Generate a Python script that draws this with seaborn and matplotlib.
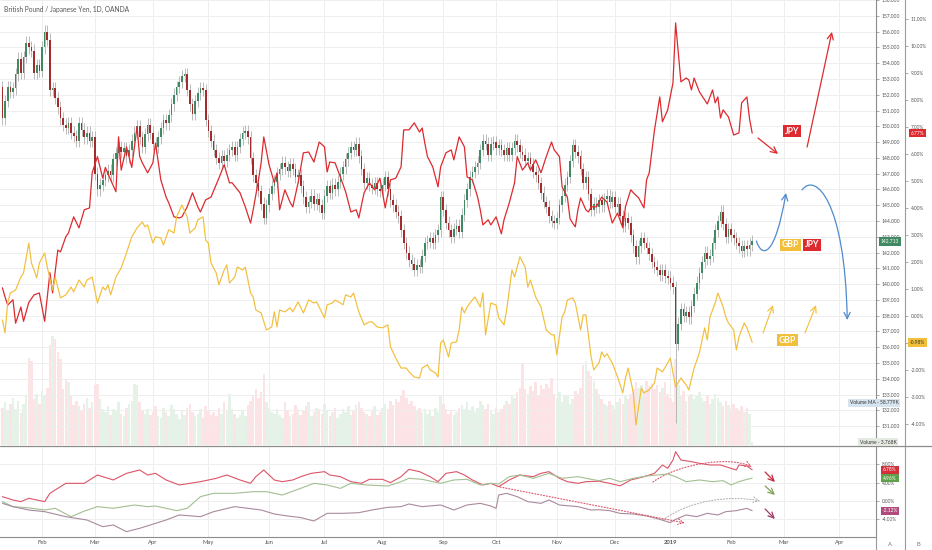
import matplotlib
matplotlib.use('Agg')
import matplotlib.pyplot as plt
from matplotlib.lines import Line2D
from matplotlib.patches import FancyArrowPatch
from matplotlib.path import Path
import numpy as np
import pandas as pd
import seaborn as sns

sns.set_theme(style='white')
plt.rcParams['font.family'] = ['Lato', 'DejaVu Sans']

# --- data --------------------------------------------------------------
start_date = '2018-01-11'
month_labels = ['Feb', 'Mar', 'Apr', 'May', 'Jun', 'Jul', 'Aug', 'Sep',
                'Oct', 'Nov', 'Dec', '2019', 'Feb', 'Mar', 'Apr']

first_open = 152.5
closes = [
    150.5, 151.6, 152.5, 152.2, 152.4, 153.3, 154.3, 153.4, 154.4, 155.3,
    155.0, 154.8, 153.4, 153.9, 153.5, 155.0, 156.0, 155.5, 152.3, 152.4,
    151.8, 151.2, 150.5, 150.1, 149.9, 150.2, 149.6, 149.4, 149.1, 150.2,
    149.8, 149.3, 149.6, 149.1, 149.3, 147.0, 146.0, 146.3, 146.6, 146.9,
    147.2, 146.9, 147.9, 148.3, 148.7, 148.4, 148.6, 148.1, 148.5, 149.1,
    149.6, 150.0, 149.3, 148.7, 149.5, 150.1, 149.6, 148.9, 148.7, 149.3,
    149.9, 150.4, 150.2, 150.7, 151.4, 152.0, 152.5, 152.8, 153.2, 153.3,
    152.3, 151.4, 150.8, 151.6, 152.1, 152.4, 152.3, 150.4, 149.7, 149.1,
    148.5, 148.0, 147.7, 148.1, 147.8, 148.2, 148.5, 148.7, 148.2, 148.7,
    149.2, 149.6, 149.7, 149.3, 148.0, 146.9, 146.4, 145.9, 145.1, 144.2,
    145.0, 145.7, 146.2, 146.5, 147.0, 147.3, 147.7, 147.4, 147.2, 147.6,
    147.3, 146.8, 146.9, 146.2, 145.5, 144.9, 145.2, 145.6, 145.1, 145.4,
    145.0, 144.5, 145.6, 146.2, 145.8, 146.3, 146.0, 146.5, 147.0, 147.4,
    147.9, 148.3, 148.7, 148.5, 148.9, 148.1, 147.3, 146.4, 146.7, 146.3,
    146.1, 146.4, 146.0, 145.9, 146.3, 146.8, 146.0, 145.3, 145.0, 144.6,
    144.3, 143.4, 142.6, 142.0, 141.5, 141.3, 140.9, 141.2, 141.1, 141.8,
    142.6, 142.7, 142.9, 142.6, 143.1, 143.4, 145.5, 144.7, 143.9, 143.4,
    143.0, 143.5, 143.7, 143.3, 144.4, 145.3, 146.0, 146.8, 147.1, 147.4,
    147.7, 148.5, 149.1, 148.9, 148.2, 148.9, 149.0, 148.6, 148.8, 148.5,
    148.2, 148.6, 148.2, 148.6, 149.1, 148.8, 148.4, 148.2, 147.8, 148.0,
    147.6, 147.1, 146.9, 146.4, 145.8, 145.2, 144.9, 144.3, 144.0, 143.9,
    144.2, 145.0, 145.6, 146.3, 146.8, 147.8, 148.8, 148.4, 148.1, 147.3,
    146.4, 146.8, 145.7, 144.7, 145.1, 144.9, 145.3, 145.0, 145.4, 145.6,
    145.2, 145.5, 144.9, 145.1, 144.3, 143.7, 144.2, 143.9, 143.1, 142.4,
    141.7, 142.4, 142.9, 142.6, 142.3, 141.9, 141.4, 141.1, 140.9, 140.6,
    140.9, 140.5, 140.4, 140.1, 139.8, 136.2, 137.5, 138.4, 138.0, 138.2,
    137.9, 138.6, 139.4, 140.1, 140.7, 141.4, 142.0, 141.6, 141.8, 142.6,
    143.4, 144.0, 144.6, 143.8, 143.0, 143.5, 143.1, 142.9, 142.6, 142.4,
    142.1, 142.4, 142.2, 142.5, 142.713,
]
spike_lows = {255: 131.2}   # 3 Jan 2019 flash crash

volume_k = [
    52, 60, 47, 58, 66, 50, 62, 45, 57, 70,
    122, 118, 64, 72, 58, 76, 68, 80, 140, 152,
    148, 130, 120, 78, 92, 88, 70, 56, 62, 54,
    48, 58, 66, 52, 60, 84, 86, 64, 50, 46,
    55, 42, 50, 48, 60, 44, 40, 52, 58, 62,
    86, 84, 60, 48, 44, 50, 42, 46, 55, 40,
    38, 52, 46, 40, 56, 50, 44, 36, 48, 42,
    52, 58, 46, 40, 44, 50, 38, 54, 48, 42,
    46, 40, 52, 44, 60, 48, 72, 50, 44, 38,
    42, 48, 40, 56, 62, 70, 78, 66, 74, 100,
    60, 52, 46, 44, 50, 42, 38, 60, 48, 40,
    44, 56, 50, 42, 48, 54, 60, 40, 46, 52,
    50, 44, 58, 48, 40, 46, 52, 38, 44, 50,
    46, 54, 42, 48, 56, 60, 52, 46, 44, 40,
    48, 54, 42, 46, 52, 58, 50, 62, 56, 64,
    60, 70, 77, 66, 58, 62, 54, 48, 52, 46,
    50, 44, 48, 40, 52, 46, 68, 58, 50, 44,
    48, 42, 46, 52, 56, 50, 60, 48, 54, 46,
    52, 62, 56, 50, 58, 48, 44, 52, 46, 50,
    56, 62, 58, 70, 66, 74, 80, 115, 78, 72,
    82, 76, 88, 70, 84, 78, 86, 80, 94, 72,
    66, 74, 60, 68, 70, 58, 64, 76, 72, 80,
    112, 118, 104, 96, 90, 78, 72, 64, 58, 54,
    62, 56, 50, 60, 66, 58, 70, 64, 72, 78,
    88, 80, 84, 76, 90, 82, 86, 78, 84, 74,
    80, 88, 72, 66, 60, 120, 84, 70, 76, 62,
    68, 72, 64, 70, 74, 66, 62, 70, 58, 64,
    72, 66, 60, 54, 62, 56, 50, 58, 52, 48,
    54, 46, 52, 44, 3.768,
]
volume_ma_k = 58.779

# JPY and GBP currency indices, % change (bar number, value)
jpy_points = [
    (0, 1.04), (1, 0.7), (2, 0.4), (4, 0.6), (5, -0.27), (7, 0.33), (8, -0.2),
    (10, 0.5), (12, 0.78), (14, 0.85), (16, -0.2), (18, 1.6), (19, 0.85),
    (21, 2.44), (22, 2.37), (24, 2.93), (25, 3.07), (27, 3.67), (29, 3.26),
    (31, 3.93), (33, 4.0), (34, 5.3), (36, 5.9), (38, 5.1), (39, 5.5),
    (41, 5.04), (43, 4.6), (44, 6.63), (45, 5.4), (47, 6.26), (49, 5.5),
    (51, 7.0), (52, 5.9), (53, 5.67), (55, 5.3), (57, 5.67), (58, 6.4),
    (60, 5.04), (62, 4.4), (63, 4.19), (65, 3.67), (67, 3.63), (68, 3.67),
    (70, 4.04), (72, 4.56), (74, 4.04), (75, 3.85), (77, 4.3), (79, 4.4),
    (82, 5.1), (84, 5.6), (86, 4.93), (87, 4.93), (90, 4.56), (92, 4.04),
    (94, 3.44), (95, 3.93), (97, 5.04), (98, 5.67), (99, 6.63), (101, 5.6),
    (103, 4.93), (104, 5.3), (105, 3.93), (107, 4.67), (109, 4.2),
    (110, 4.04), (112, 4.93), (114, 6.04), (116, 6.07), (118, 5.7),
    (120, 6.44), (122, 6.26), (123, 5.33), (124, 5.7), (126, 5.67),
    (128, 5.15), (130, 4.6), (132, 3.85), (134, 3.93), (135, 3.63),
    (137, 4.56), (139, 4.93), (141, 4.67), (143, 5.1), (145, 4.0),
    (147, 5.04), (149, 5.1), (151, 5.52), (152, 6.89), (154, 6.89),
    (156, 7.15), (158, 6.81), (159, 6.96), (160, 6.4), (161, 5.9),
    (163, 5.52), (165, 4.78), (166, 5.52), (168, 6.04), (170, 6.15),
    (171, 5.78), (173, 6.63), (175, 6.26), (176, 5.15), (178, 5.04),
    (180, 4.4), (181, 3.93), (182, 3.37), (184, 3.56), (185, 3.37),
    (187, 3.67), (189, 3.04), (190, 3.56), (192, 4.19), (194, 4.93),
    (195, 5.9), (197, 5.4), (199, 5.67), (200, 5.4), (202, 5.78),
    (204, 5.3), (206, 5.9), (208, 6.44), (209, 6.15), (211, 5.9),
    (212, 4.78), (214, 4.4), (215, 3.6), (216, 3.44), (217, 3.3),
    (218, 3.93), (219, 4.37), (221, 3.93), (222, 3.85), (223, 4.04),
    (225, 4.04), (227, 4.4), (229, 4.22), (231, 3.44), (233, 3.81),
    (235, 3.26), (236, 4.04), (238, 4.67), (239, 4.56), (241, 4.37),
    (243, 4.0), (244, 5.04), (245, 5.3), (247, 6.89), (249, 8.11),
    (250, 7.19), (252, 7.63), (254, 8.63), (255, 10.85), (257, 8.67),
    (259, 8.81), (260, 8.74), (261, 8.37), (262, 8.81), (264, 8.3),
    (267, 7.85), (269, 8.37), (270, 7.89), (271, 8.11), (272, 7.33),
    (273, 7.63), (275, 7.37), (277, 6.7), (279, 6.78), (280, 7.89),
    (282, 8.11), (283, 7.3), (284, 6.77),
]
gbp_points = [
    (0, -0.15), (1, -0.63), (2, 0.48), (3, 0.85), (5, 0.96), (7, 1.44),
    (8, 1.59), (10, 2.7), (11, 1.96), (13, 1.41), (14, 1.96), (16, 2.33),
    (17, 1.81), (19, 0.96), (20, 1.44), (22, 0.67), (24, 0.78), (26, 1.07),
    (27, 0.89), (29, 1.33), (31, 1.07), (32, 1.33), (34, 1.44), (36, 0.48),
    (38, 1.07), (39, 0.96), (40, 1.15), (41, 0.78), (43, 1.44), (45, 1.78),
    (47, 2.33), (49, 2.93), (51, 3.26), (53, 3.48), (54, 3.3), (55, 3.37),
    (57, 2.7), (58, 2.93), (60, 2.89), (61, 2.63), (63, 3.19), (65, 3.07),
    (66, 3.67), (68, 4.11), (70, 3.67), (71, 3.07), (73, 3.26), (74, 3.56),
    (76, 3.67), (77, 2.81), (78, 2.7), (79, 1.96), (81, 1.59), (82, 1.15),
    (84, 1.7), (85, 1.89), (86, 1.22), (88, 1.44), (89, 1.81), (91, 1.7),
    (92, 1.81), (94, 0.85), (95, 0.7), (96, 0.22), (98, 0.11), (100, -0.52),
    (102, -0.41), (103, 0.15), (104, -0.41), (105, 0.22), (107, 0.15),
    (109, 0.3), (110, 0.15), (112, 0.52), (114, 0.11), (116, 0.59),
    (118, 0.48), (119, 0.52), (122, -0.07), (123, 0.41), (125, 0.48),
    (126, 0.59), (128, 0.48), (129, 0.41), (130, 0.78), (132, 0.7),
    (133, 0.85), (135, 0.15), (137, -0.33), (139, -0.22), (140, -0.22),
    (142, -0.41), (144, -0.44), (146, -0.33), (147, -1.15), (149, -1.56),
    (151, -1.93), (153, -1.93), (154, -2.07), (156, -2.26), (158, -2.3),
    (159, -1.93), (161, -1.81), (162, -2.0), (164, -2.11), (165, -2.26),
    (166, -1.0), (167, -0.89), (169, -1.52), (170, -1.0), (172, -0.96),
    (173, -0.52), (174, 0.33), (175, 0.11), (176, 0.33), (178, 0.59),
    (179, 0.7), (181, 0.33), (182, 0.85), (183, -0.7), (185, 0.48),
    (187, 0.4), (188, -0.07), (190, -0.33), (191, 0.22), (193, 1.7),
    (194, 1.44), (196, 2.19), (198, 1.81), (199, 1.07), (200, 1.33),
    (202, 0.7), (204, 0.33), (206, -0.52), (208, -0.7), (209, -0.7),
    (210, -1.44), (212, -0.04), (213, 0.15), (214, 0.59), (216, 0.67),
    (217, 0.48), (219, -0.52), (220, 0.04), (221, 0.04), (223, -1.52),
    (224, -2.0), (226, -1.74), (227, -1.33), (228, -1.52), (229, -1.4),
    (231, -1.74), (233, -2.26), (235, -2.85), (236, -2.3), (237, -1.93),
    (239, -2.85), (240, -4.04), (242, -2.67), (243, -2.85), (245, -2.74),
    (247, -2.48), (248, -1.93), (250, -2.07), (252, -1.74), (253, -1.56),
    (254, -2.11), (255, -2.63), (257, -2.3), (259, -2.56), (260, -2.74),
    (262, -1.93), (264, -1.37), (266, -0.44), (267, -0.89), (268, -0.04),
    (270, 0.48), (271, 0.85), (273, 0.33), (274, -0.04), (275, -0.26),
    (277, -0.52), (278, -1.26), (279, -0.78), (281, -0.26), (282, -0.44),
    (283, -0.7), (284, -0.98),
]

# lower pane: three strength lines, % (bar number, value)
low_red_points = [
    (0, 0.94), (4, 0.22), (7, -0.14), (10, 0.58), (16, -0.14), (18, 1.67),
    (24, 3.84), (31, 3.84), (36, 5.65), (42, 4.57), (47, 6.01), (52, 6.74),
    (55, 5.65), (58, 6.01), (62, 4.57), (67, 3.48), (75, 4.2), (81, 4.93),
    (85, 5.65), (90, 4.57), (94, 3.84), (96, 5.29), (99, 6.74), (103, 4.57),
    (106, 4.2), (110, 4.57), (113, 5.29), (117, 6.01), (122, 6.38),
    (124, 5.65), (128, 5.29), (132, 4.2), (136, 3.84), (139, 4.71),
    (144, 4.71), (147, 3.99), (151, 5.29), (154, 6.88), (158, 6.38),
    (162, 5.29), (165, 4.2), (168, 6.01), (172, 6.38), (175, 5.65),
    (178, 4.57), (182, 3.48), (185, 3.84), (188, 3.12), (192, 4.57),
    (196, 5.65), (201, 5.29), (204, 6.01), (207, 6.38), (211, 4.93),
    (214, 4.2), (218, 3.84), (221, 4.2), (226, 4.3), (230, 3.84), (234, 3.3),
    (238, 4.57), (243, 5.29), (247, 6.01), (250, 7.83), (252, 7.1),
    (254, 8.91), (255, 10.72), (257, 8.91), (261, 8.55), (264, 8.19),
    (268, 7.83), (272, 7.83), (276, 7.1), (278, 6.74), (279, 7.83),
    (282, 7.61), (284, 6.78),
]
low_green_points = [
    (0, -0.14), (4, -1.23), (10, -1.5), (16, -1.96), (20, -1.59),
    (26, -3.41), (31, -2.2), (36, -1.23), (42, -1.59), (50, -0.87),
    (55, -1.23), (58, -1.09), (66, -2.1), (70, -1.59), (75, 0.94), (80, 1.67),
    (88, 1.67), (95, 2.03), (100, 2.03), (106, 1.3), (113, 2.75), (118, 3.84),
    (123, 3.48), (128, 2.75), (132, 3.84), (138, 3.48), (146, 3.26),
    (151, 4.2), (154, 4.93), (159, 4.71), (166, 3.84), (171, 4.57),
    (176, 4.71), (181, 3.48), (185, 3.84), (188, 3.7), (192, 5.29),
    (196, 5.65), (201, 4.93), (207, 6.01), (212, 4.93), (218, 5.29),
    (223, 4.71), (226, 4.42), (230, 4.93), (234, 4.2), (239, 4.93),
    (244, 5.43), (248, 5.65), (252, 5.87), (255, 5.29), (259, 4.2),
    (264, 4.57), (269, 4.2), (273, 4.42), (276, 3.48), (279, 4.2),
    (282, 4.7), (284, 4.96),
]
low_purple_points = [
    (0, -0.51), (4, -1.23), (10, -1.96), (16, -2.32), (24, -3.41),
    (32, -4.13), (38, -5.58), (42, -5.22), (47, -6.67), (52, -5.94),
    (58, -4.86), (62, -4.13), (67, -3.04), (75, -3.41), (80, -2.32),
    (88, -1.23), (93, -1.59), (98, -1.96), (103, -2.83), (108, -3.26),
    (113, -3.6), (118, -4.35), (123, -2.68), (129, -2.68), (135, -2.54),
    (140, -1.96), (146, -1.38), (151, -1.23), (154, -0.65), (159, -1.23),
    (166, -0.87), (171, -1.96), (176, -0.87), (181, -0.51), (185, -1.09),
    (187, -1.59), (188, 1.3), (191, 1.67), (195, 0.94), (199, -0.14),
    (204, -0.51), (207, 0.22), (211, -0.87), (218, -1.23), (223, -1.96),
    (226, -1.9), (230, -2.1), (234, -2.7), (239, -2.83), (244, -3.26),
    (249, -3.99), (253, -4.71), (255, -3.99), (259, -3.04), (263, -3.41),
    (267, -2.68), (271, -3.04), (274, -2.32), (278, -2.1), (282, -1.59),
    (284, -2.12),
]

# hand drawn annotations (bar number, price) / (bar number, %)
red_arrows = [((286.2, 149.26), (293.8, 148.25)), ((304.8, 148.69), (314.2, 155.99))]
gold_arrows = [((288.1, 136.9), (291.9, 138.67)), ((304.0, 136.9), (308.2, 138.67))]
blue_curves = [
    [(285.6, 142.73), (287.7, 141.65), (292.6, 141.65), (296.8, 145.78)],
    [(302.9, 145.97), (307.8, 147.1), (319.2, 145.33), (320.0, 137.72)],
]

# --- colours -----------------------------------------------------------
UP, DOWN, WICK = '#3f8a62', '#a32b2b', '#a8a8a8'
VOL_UP, VOL_DOWN = '#e4f2e7', '#fbe3e6'
JPY_RED, GBP_GOLD, BLUE = '#dc2a2f', '#f2bf3a', '#4f8bcc'
LOW_RED, LOW_GREEN, LOW_PURPLE = '#dc5468', '#a3bf92', '#a98a9d'
TXT, GRID = '#555555', '#eeeeee'

W, H = 932, 550


def fx(px):
    return px / W


def fy(py):
    return 1 - py / H


# --- derived series ----------------------------------------------------
close = np.array(closes)
open_ = np.r_[first_open, close[:-1]]
high = np.maximum(open_, close) + 0.4
low = np.minimum(open_, close) - 0.4
for k, v in spike_lows.items():
    low[k] = v
up = close >= open_
bar = np.arange(len(close))

days = pd.bdate_range(start_date, '2019-04-30')
month_pos = [int(days.searchsorted(m)) for m in
             pd.date_range('2018-02-01', '2019-04-01', freq='MS')]

x_lim = (-0.91, 330.9)

# --- figure ------------------------------------------------------------
fig = plt.figure(figsize=(W / 100, H / 100), dpi=100)
fig.patch.set_facecolor('white')

ax_vol = fig.add_axes([0, fy(445), fx(876), 445 / H])
ax = ax_vol.twinx()
ax_pct = ax_vol.twinx()

# volume
ax_vol.bar(bar, volume_k, width=0.95, color=np.where(up, VOL_UP, VOL_DOWN), linewidth=0)
ax_vol.set_ylim(0, 623)
ax_vol.set_xlim(*x_lim)
ax_vol.set_yticks([])
ax_vol.set_xticks(month_pos)
ax_vol.tick_params(axis='x', length=0, labelbottom=False)
ax_vol.grid(axis='x', color=GRID, lw=0.7)
for s in ax_vol.spines.values():
    s.set_visible(False)

# candles
ax.vlines(bar, low, high, color=WICK, lw=0.55, zorder=3)
body = np.maximum(np.abs(close - open_), 0.06)
ax.bar(bar, body, bottom=np.minimum(open_, close), width=0.62,
       color=np.where(up, UP, DOWN), linewidth=0, zorder=4)
ax.set_ylim(129.80, 158.01)
ax.set_yticks(np.arange(131, 159))
ax.set_yticklabels([f'{v:.3f}' for v in range(131, 159)])
ax.grid(axis='y', color=GRID, lw=0.7)
ax.tick_params(axis='y', right=True, labelsize=3.6, labelcolor=TXT, color='#888888',
               length=2.5, width=0.5, pad=1.5)
for s in ('left', 'top', 'bottom'):
    ax.spines[s].set_visible(False)
ax.spines['right'].set_color('#8c8c8c')
ax.spines['right'].set_linewidth(0.8)

# currency index lines
jpy_day, jpy_pct = zip(*jpy_points)
gbp_day, gbp_pct = zip(*gbp_points)
sns.lineplot(x=list(jpy_day), y=list(jpy_pct), ax=ax_pct, color=JPY_RED, lw=0.9,
             estimator=None, zorder=5)
sns.lineplot(x=list(gbp_day), y=list(gbp_pct), ax=ax_pct, color=GBP_GOLD, lw=0.85,
             estimator=None, zorder=5)
ax_pct.set_ylim(-4.78, 11.70)
ax_pct.set_xlim(*x_lim)
ax_pct.set_yticks(np.arange(-4, 12))
ax_pct.set_yticklabels([f'{v:.2f}%' for v in range(-4, 12)])
ax_pct.set_ylabel('')
ax_pct.spines['right'].set_position(('axes', 905 / 876))
for s in ('left', 'top', 'bottom'):
    ax_pct.spines[s].set_visible(False)
ax_pct.spines['right'].set_color('#9a9a9a')
ax_pct.spines['right'].set_linewidth(0.8)
ax_pct.tick_params(axis='y', labelsize=3.4, labelcolor=TXT, color='#888888',
                   length=2.5, width=0.5, pad=1.5)
ax_pct.tick_params(axis='x', length=0, labelbottom=False)

# hand drawings on the main pane
arrow_head = '->,head_length=0.45,head_width=0.22'
for start, end in red_arrows:
    ax.annotate('', xy=end, xytext=start, annotation_clip=False,
                arrowprops=dict(arrowstyle=arrow_head, color=JPY_RED, lw=0.9,
                                mutation_scale=10, shrinkA=0, shrinkB=0))
for start, end in gold_arrows:
    ax.annotate('', xy=end, xytext=start, annotation_clip=False,
                arrowprops=dict(arrowstyle=arrow_head, color=GBP_GOLD, lw=0.8,
                                mutation_scale=10, shrinkA=0, shrinkB=0))
bez = [Path.MOVETO, Path.CURVE4, Path.CURVE4, Path.CURVE4]
for pts in blue_curves:
    ax.add_patch(FancyArrowPatch(path=Path(pts, bez), arrowstyle=arrow_head,
                                 color=BLUE, lw=0.9, mutation_scale=10,
                                 transform=ax.transData, zorder=6))

label_kw = dict(fontsize=6.2, fontweight='bold', color='white', va='center',
                ha='center', zorder=8)
ax.text(299.1, 149.7, 'JPY',
        bbox=dict(boxstyle='square,pad=0.22', fc=JPY_RED, ec='none'), **label_kw)
ax.text(298.6, 142.48, 'GBP',
        bbox=dict(boxstyle='square,pad=0.22', fc=GBP_GOLD, ec='none'), **label_kw)
ax.text(306.6, 142.48, 'JPY',
        bbox=dict(boxstyle='square,pad=0.22', fc=JPY_RED, ec='none'), **label_kw)
ax.text(297.2, 136.45, 'GBP',
        bbox=dict(boxstyle='square,pad=0.22', fc=GBP_GOLD, ec='none'), **label_kw)


def tag(axis, x_px, value, text, fc, tc='white'):
    axis.text(x_px / 876, value, text, transform=axis.get_yaxis_transform(),
              ha='center', va='center', fontsize=3.5, color=tc, clip_on=False,
              bbox=dict(boxstyle='square,pad=0.35', fc=fc, ec='none'), zorder=12)


tag(ax, 890, close[-1], f'{close[-1]:.3f}', UP)
tag(ax_pct, 917.5, jpy_pct[-1], f'{jpy_pct[-1]:.2f}%', JPY_RED)
tag(ax_pct, 917.5, gbp_pct[-1], f'{gbp_pct[-1]:.2f}%', GBP_GOLD, tc='#333333')

fig.text(fx(874), fy(403), f'Volume MA - {volume_ma_k:.3f}K', ha='center', va='center',
         fontsize=3.5, color='#333333', zorder=12,
         bbox=dict(boxstyle='square,pad=0.35', fc='#d6e4ef', ec='none'))
fig.text(fx(878), fy(442), f'Volume - {volume_k[-1]:.3f}K', ha='center', va='center',
         fontsize=3.5, color='#333333', zorder=12,
         bbox=dict(boxstyle='square,pad=0.35', fc='#e4eae2', ec='none'))

fig.text(fx(4), fy(9), 'British Pound / Japanese Yen, 1D, OANDA', ha='left', va='center',
         fontsize=4.8, color=TXT)

# --- lower pane --------------------------------------------------------
ax_low = fig.add_axes([0, fy(537), fx(876), 90 / H])
for pts, col in ((low_red_points, LOW_RED), (low_green_points, LOW_GREEN),
                 (low_purple_points, LOW_PURPLE)):
    d, v = zip(*pts)
    sns.lineplot(x=list(d), y=list(v), ax=ax_low, color=col, lw=0.8, estimator=None)
ax_low.set_xlim(*x_lim)
ax_low.set_ylim(-7.83, 11.74)
ax_low.yaxis.tick_right()
ax_low.set_yticks([-4, 0, 4, 8])
ax_low.set_yticklabels([f'{v:.2f}%' for v in (-4, 0, 4, 8)])
ax_low.set_ylabel('')
ax_low.set_xticks(month_pos)
ax_low.set_xticklabels(month_labels)
ax_low.get_xticklabels()[11].set_fontweight('bold')
ax_low.grid(color=GRID, lw=0.7)
ax_low.tick_params(axis='x', length=0, labelsize=4.2, labelcolor=TXT, pad=2.5)
ax_low.tick_params(axis='y', right=True, labelsize=3.4, labelcolor=TXT, color='#888888',
                   length=2.5, width=0.5, pad=1.5)
for s in ('left', 'top'):
    ax_low.spines[s].set_visible(False)
for s in ('bottom', 'right'):
    ax_low.spines[s].set_color('#8c8c8c')
    ax_low.spines[s].set_linewidth(0.8)

# dotted projections and arrows in the lower pane
ax_low.annotate('', xy=(258.5, -4.78), xytext=(188.5, 3.04), annotation_clip=False,
                arrowprops=dict(arrowstyle=arrow_head, color=LOW_RED, lw=0.8, ls=':',
                                mutation_scale=9, shrinkA=0, shrinkB=0))
low_arcs = [
    ([(246.4, 4.13), (256.7, 8.26), (275.6, 9.78), (283.9, 7.39)], LOW_RED),
    ([(250.2, -4.13), (260.5, 0.22), (275.6, 1.3), (287.0, 0.0)], '#b4b4b4'),
]
for pts, col in low_arcs:
    ax_low.add_patch(FancyArrowPatch(path=Path(pts, bez), arrowstyle=arrow_head,
                                     color=col, lw=0.8, ls=':', mutation_scale=9,
                                     transform=ax_low.transData))
low_arrows = [
    ((288.9, 6.3), (292.6, 4.13), '#c8283c'),
    ((288.9, 3.26), (292.6, 1.3), '#7fa35a'),
    ((288.9, -1.74), (292.6, -3.91), '#9c3c64'),
]
for start, end, col in low_arrows:
    ax_low.annotate('', xy=end, xytext=start, annotation_clip=False,
                    arrowprops=dict(arrowstyle=arrow_head, color=col, lw=0.9,
                                    mutation_scale=9, shrinkA=0, shrinkB=0))

low_red_last = low_red_points[-1][1]
low_green_last = low_green_points[-1][1]
low_purple_last = low_purple_points[-1][1]
tag(ax_low, 890, low_red_last, f'{low_red_last:.2f}%', '#d32f3a')
tag(ax_low, 890, low_green_last, f'{low_green_last:.2f}%', '#5ea04b')
tag(ax_low, 890, low_purple_last, f'{low_purple_last:.2f}%', '#b04c7c')

# frame lines of the right-hand scales
fig.add_artist(Line2D([0, 1], [fy(446), fy(446)], color='#8c8c8c', lw=0.9))
fig.add_artist(Line2D([fx(905), fx(905)], [fy(446), 0], color='#9a9a9a', lw=0.8))
fig.add_artist(Line2D([fx(876), fx(876)], [fy(537), 0], color='#9a9a9a', lw=0.8))
fig.text(fx(890), fy(545), 'A', ha='center', va='center', fontsize=4.2, color='#777777')
fig.text(fx(918), fy(545), 'B', ha='center', va='center', fontsize=4.2, color='#777777')

fig.savefig('out.png', dpi=100, facecolor='white')
